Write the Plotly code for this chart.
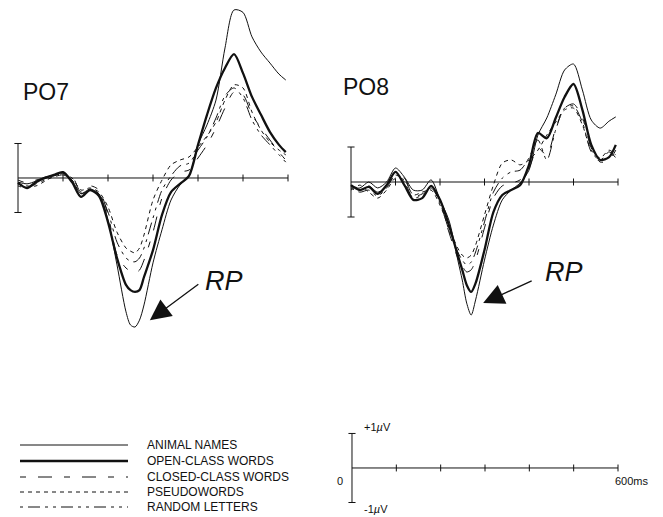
import plotly.graph_objects as go

# ---------------- data (time in ms, amplitude in microvolts) ----------------
times = [0, 20, 40, 60, 80, 100, 120, 140, 160, 180, 200, 220, 240, 250, 260, 270, 280,
         300, 320, 340, 360, 380, 400, 420, 440, 460, 480, 500, 520, 540, 560, 580, 595]

conditions = ["ANIMAL NAMES", "OPEN-CLASS WORDS", "CLOSED-CLASS WORDS", "PSEUDOWORDS", "RANDOM LETTERS"]

po7_animal = [-0.12, -0.17, -0.09, 0.03, 0.06, 0.17, -0.06, -0.45, -0.32, -0.46, -1.22, -2.52, -3.88, -4.26, -4.32, -4.12, -3.68,
              -2.46, -1.50, -0.64, -0.20, 0.06, 0.96, 1.54, 2.26, 3.77, 4.87, 4.80, 4.09, 3.65, 3.33, 3.01, 2.84]
po7_open = [-0.14, -0.29, -0.12, 0.00, 0.09, 0.17, -0.12, -0.55, -0.35, -0.52, -1.28, -2.32, -3.10, -3.25, -3.30, -3.25, -2.87,
            -2.09, -1.07, -0.41, -0.17, 0.06, 0.96, 1.83, 2.61, 3.19, 3.59, 3.04, 2.35, 1.83, 1.33, 0.96, 0.75]
po7_closed = [-0.06, -0.14, -0.06, 0.00, 0.03, 0.14, 0.06, -0.41, -0.23, -0.35, -1.07, -2.23, -2.61, -2.70, -2.75, -2.67, -2.38,
              -1.57, -0.58, -0.06, 0.17, 0.23, 0.58, 0.96, 1.45, 2.03, 2.49, 2.41, 1.83, 1.45, 1.10, 0.75, 0.52]
po7_pseudo = [-0.17, -0.23, -0.23, -0.09, 0.06, 0.12, 0.00, -0.35, -0.29, -0.41, -0.84, -1.57, -2.03, -2.12, -2.17, -2.03, -1.65,
              -0.64, -0.06, 0.38, 0.52, 0.61, 0.90, 1.22, 1.62, 2.26, 2.70, 2.61, 1.91, 1.39, 1.04, 0.81, 0.67]
po7_random = [-0.23, -0.29, -0.17, -0.06, 0.03, 0.09, -0.06, -0.46, -0.35, -0.46, -0.99, -1.86, -2.32, -2.41, -2.43, -2.32, -2.03,
              -1.16, -0.35, 0.06, 0.35, 0.43, 0.81, 1.19, 1.74, 2.38, 2.61, 2.32, 1.68, 1.25, 0.96, 0.67, 0.46]

po8_animal = [-0.14, -0.17, 0.00, -0.17, 0.00, 0.40, 0.14, -0.23, -0.23, 0.06, -0.51, -1.09, -2.23, -2.80, -3.46, -3.80, -3.37,
              -2.23, -1.23, -0.51, -0.23, -0.03, 0.34, 1.34, 1.83, 2.49, 3.20, 3.37, 2.63, 1.77, 1.54, 1.74, 1.86]
po8_open = [-0.09, -0.23, -0.14, -0.34, -0.09, 0.29, -0.09, -0.51, -0.46, -0.11, -0.51, -1.23, -2.09, -2.51, -2.94, -3.14, -2.89,
            -1.94, -0.86, -0.37, -0.23, -0.09, 0.49, 1.40, 1.25, 1.83, 2.43, 2.80, 2.06, 1.06, 0.63, 0.71, 1.06]
po8_closed = [-0.11, -0.17, -0.11, -0.29, -0.11, 0.17, 0.11, -0.40, -0.34, -0.11, -0.57, -1.43, -2.17, -2.40, -2.57, -2.51, -2.23,
              -1.31, -0.46, -0.11, -0.03, 0.06, 0.40, 0.97, 0.77, 1.54, 2.11, 2.23, 1.83, 0.97, 0.57, 0.63, 0.91]
po8_pseudo = [-0.23, -0.09, -0.29, -0.46, -0.23, 0.11, 0.06, -0.37, -0.29, -0.23, -0.66, -1.31, -1.89, -2.09, -2.17, -2.09, -1.80,
              -0.94, -0.09, 0.54, 0.63, 0.49, 0.63, 0.91, 1.34, 1.71, 2.06, 2.11, 1.63, 0.91, 0.69, 0.91, 0.77]
po8_random = [-0.17, -0.29, -0.23, -0.40, -0.17, 0.20, 0.00, -0.46, -0.37, -0.17, -0.60, -1.37, -2.00, -2.23, -2.37, -2.29, -2.00,
              -1.14, -0.29, 0.11, 0.29, 0.34, 0.69, 1.20, 0.63, 1.49, 2.11, 2.17, 1.71, 0.86, 0.63, 0.86, 0.69]

tick_times = [100, 200, 300, 400, 500, 600]
epoch_end = 600
scale_uv = 1

# ---------------- styles ----------------
INK = "#111111"
styles = {
    "ANIMAL NAMES": dict(width=1.0, dash="solid"),
    "OPEN-CLASS WORDS": dict(width=2.3, dash="solid"),
    "CLOSED-CLASS WORDS": dict(width=1.0, dash="6px,12px,14px,12px"),
    "PSEUDOWORDS": dict(width=1.0, dash="4px,4px"),
    "RANDOM LETTERS": dict(width=1.0, dash="3px,5px,12px,5px,3px,5px"),
}

fig = go.Figure()

panels = [
    ("x", "y", [po7_animal, po7_open, po7_closed, po7_pseudo, po7_random]),
    ("x2", "y2", [po8_animal, po8_open, po8_closed, po8_pseudo, po8_random]),
]
for xa, ya, series in panels:
    for name, vals in zip(conditions, series):
        st = styles[name]
        fig.add_trace(go.Scatter(
            x=times, y=vals, mode="lines", name=name, showlegend=False,
            xaxis=xa, yaxis=ya,
            line=dict(color=INK, width=st["width"], dash=st["dash"], shape="spline", smoothing=0.8),
            hoverinfo="skip"))

shapes = []


def axis_shapes(xr, yr, tick_half, cap_half):
    out = []
    out.append(dict(type="line", xref=xr, yref=yr, x0=0, x1=epoch_end, y0=0, y1=0,
                    line=dict(color=INK, width=1), layer="below"))
    for t in tick_times:
        out.append(dict(type="line", xref=xr, yref=yr, x0=t, x1=t, y0=-tick_half, y1=tick_half,
                        line=dict(color=INK, width=1), layer="below"))
    out.append(dict(type="line", xref=xr, yref=yr, x0=0, x1=0, y0=-scale_uv, y1=scale_uv,
                    line=dict(color=INK, width=1), layer="below"))
    for yv in (-scale_uv, scale_uv):
        out.append(dict(type="line", xref=xr, yref=yr, x0=-cap_half, x1=cap_half, y0=yv, y1=yv,
                        line=dict(color=INK, width=1), layer="below"))
    return out


shapes += axis_shapes("x", "y", 0.1, 8)
shapes += axis_shapes("x2", "y2", 0.1, 8)
shapes += axis_shapes("x3", "y3", 0.1, 8)

W, H = 663, 517
leg_rows = [445, 461, 477, 492, 507]
for name, py in zip(conditions, leg_rows):
    st = styles[name]
    shapes.append(dict(type="line", xref="paper", yref="paper",
                       x0=20 / W, x1=128 / W, y0=1 - py / H, y1=1 - py / H,
                       line=dict(color=INK, width=st["width"], dash=st["dash"])))

annotations = []
for name, py in zip(conditions, leg_rows):
    annotations.append(dict(xref="paper", yref="paper", x=145 / W, y=1 - py / H, text=name,
                            showarrow=False, xanchor="left", yanchor="middle",
                            font=dict(size=12, color=INK, family="Liberation Sans, Arial, sans-serif")))

label_font = dict(size=23, color=INK, family="Liberation Sans, Arial, sans-serif")
annotations.append(dict(xref="paper", yref="paper", x=21 / W, y=1 - 92 / H, text="PO7", showarrow=False,
                        xanchor="left", yanchor="middle", font=label_font))
annotations.append(dict(xref="paper", yref="paper", x=341 / W, y=1 - 87 / H, text="PO8", showarrow=False,
                        xanchor="left", yanchor="middle", font=label_font))

rp_font = dict(size=27, color=INK, family="Liberation Sans, Arial, sans-serif")
annotations.append(dict(xref="x", yref="y", x=458, y=-3.0, text="<i>RP</i>", showarrow=False, font=rp_font))
annotations.append(dict(xref="x2", yref="y2", x=479, y=-2.57, text="<i>RP</i>", showarrow=False, font=rp_font))
annotations.append(dict(xref="x", yref="y", x=293, y=-4.12, ax=50, ay=-37, text="", showarrow=True,
                        arrowhead=2, arrowsize=3.2, arrowwidth=1.3, arrowcolor=INK))
annotations.append(dict(xref="x2", yref="y2", x=297, y=-3.46, ax=50, ay=-23, text="", showarrow=True,
                        arrowhead=2, arrowsize=3.2, arrowwidth=1.3, arrowcolor=INK))

small = dict(size=11, color=INK, family="Liberation Sans, Arial, sans-serif")
annotations.append(dict(xref="x3", yref="y3", x=22, y=1.19, text="+1<i>µ</i>V", showarrow=False,
                        xanchor="left", yanchor="middle", font=small))
annotations.append(dict(xref="x3", yref="y3", x=22, y=-1.19, text="-1<i>µ</i>V", showarrow=False,
                        xanchor="left", yanchor="middle", font=small))
annotations.append(dict(xref="x3", yref="y3", x=-27, y=-0.38, text="0", showarrow=False,
                        xanchor="center", yanchor="middle", font=small))
annotations.append(dict(xref="x3", yref="y3", x=632, y=-0.38, text="600ms", showarrow=False,
                        xanchor="center", yanchor="middle", font=small))

hidden = dict(visible=False, showgrid=False, zeroline=False, fixedrange=True)
fig.update_layout(
    width=W, height=H, autosize=False,
    margin=dict(l=0, r=0, t=0, b=0),
    paper_bgcolor="white", plot_bgcolor="white",
    showlegend=False,
    xaxis=dict(domain=[0, 330 / W], range=[-40, 693.33], **hidden),
    yaxis=dict(domain=[1 - 340 / H, 1], range=[-4.696, 5.159], **hidden),
    xaxis2=dict(domain=[330 / W, 1], range=[-47.19, 701.12], **hidden),
    yaxis2=dict(domain=[1 - 340 / H, 1], range=[-4.514, 5.2], **hidden),
    xaxis3=dict(domain=[330 / W, 1], range=[-49.6, 701.5], **hidden),
    yaxis3=dict(domain=[0, 97 / H], range=[-1.42, 1.39], **hidden),
    shapes=shapes,
    annotations=annotations,
)
fig.add_trace(go.Scatter(x=[None], y=[None], xaxis="x3", yaxis="y3", showlegend=False, hoverinfo="skip"))

fig.write_html("out.html", config={"displayModeBar": False, "staticPlot": True},
               post_script="document.body.style.margin='0';document.body.style.overflow='hidden';")
